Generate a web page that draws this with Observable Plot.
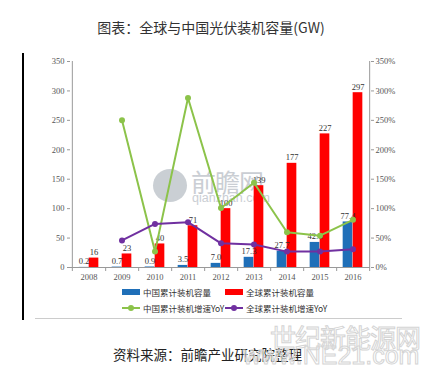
<!DOCTYPE html>
<html><head><meta charset="utf-8">
<script src="https://cdn.jsdelivr.net/npm/d3@7"></script>
<script src="https://cdn.jsdelivr.net/npm/@observablehq/plot@0.6"></script>
<style>
html,body{margin:0;padding:0;background:#fff;}
#wrap{position:relative;width:438px;height:372px;overflow:hidden;font-family:"Noto Sans CJK SC",sans-serif;}
.abs{position:absolute;white-space:nowrap;}
#chart{position:absolute;left:0;top:40px;}
.leg{position:absolute;font-size:8.5px;color:#333;line-height:10px;font-family:"Noto Sans CJK SC",sans-serif;}
</style></head>
<body><div id="wrap">
<div class="abs" style="left:0;width:422px;top:17px;text-align:center;font-size:14px;color:#333;">图表：全球与中国光伏装机容量(GW)</div>
<div class="abs" style="left:22px;top:53px;width:2px;height:267px;background:#000;"></div>
<div class="abs" style="left:153px;top:169px;width:34px;height:33px;border-radius:50%;background:#b4bac2;opacity:0.7;"></div>
<div class="abs" style="left:191px;top:163px;font-size:25px;color:#b4bac2;opacity:0.7;letter-spacing:-1px;">前瞻网</div>
<div class="abs" style="left:192px;top:191px;font-size:12.5px;color:#b4bac2;opacity:0.7;font-family:Arial,sans-serif;">qianzhan.com</div>
<div id="chart"></div>
<div class="abs" style="left:35px;top:318px;width:367px;height:1px;background:#ccc;"></div>
<div id="legend"></div>
<div class="abs" style="left:270px;top:318px;font-size:26px;color:#fff;-webkit-text-stroke:1px #d4d4d4;letter-spacing:-1px;">世纪新能源网</div>
<div class="abs" style="left:113px;top:344px;font-size:13.5px;color:#222;">资料来源：前瞻产业研究院整理</div>
<div class="abs" style="left:243px;top:341px;font-size:25px;color:rgba(255,255,255,0.3);-webkit-text-stroke:1px #d4d4d4;font-family:Arial,sans-serif;">www.NE21.com</div>
</div>
<script>
const years = ["2008","2009","2010","2011","2012","2013","2014","2015","2016"];
const chinaCap = [0.2, 0.7, 0.9, 3.5, 7.0, 17.3, 27.7, 42.6, 77.4];
const globalCap = [16, 23, 40, 71, 100, 139, 177, 227, 297];
const chinaYoY = [null, 250, 27, 288, 101, 144, 60, 54, 81];
const globalYoY = [null, 46, 74, 77, 41, 39, 27, 27, 31];
const yTicks = [0, 50, 100, 150, 200, 250, 300, 350];
const seriesNames = ["中国累计装机容量", "全球累计装机容量", "中国累计装机增速YoY", "全球累计装机增速YoY"];
const colors = ["#1f6fb8", "#ff0000", "#8cc34a", "#7030a0"];

const china = years.map((y, i) => ({year: y, v: chinaCap[i]}));
const global = years.map((y, i) => ({year: y, v: globalCap[i]}));
const cy = years.map((y, i) => ({year: y, v: chinaYoY[i]})).filter(d => d.v != null);
const gy = years.map((y, i) => ({year: y, v: globalYoY[i]})).filter(d => d.v != null);

const W = 438, bw = (W - 70 - 68) / years.length, half = bw / 2;

const chart = Plot.plot({
  width: W, height: 247,
  marginTop: 21, marginBottom: 20, marginLeft: 70, marginRight: 68,
  style: {fontFamily: "'Liberation Serif', serif", fontSize: "8.5px", color: "#555", background: "transparent"},
  x: {type: "band", domain: years, padding: 0},
  y: {domain: [0, 350]},
  marks: [
    Plot.barY(china, {x: "year", y: "v", fill: colors[0], insetLeft: half - 10, insetRight: half}),
    Plot.barY(global, {x: "year", y: "v", fill: colors[1], insetLeft: half, insetRight: half - 10}),
    Plot.ruleY([0], {stroke: "#999"}),
    Plot.ruleX([years[0]], {x: d => d, y1: 0, y2: 350, dx: -half, stroke: "#999"}),
    Plot.ruleX([years[years.length - 1]], {x: d => d, y1: 0, y2: 350, dx: half, stroke: "#999"}),
    Plot.ruleX(years, {x: d => d, y1: 0, y2: 0, dx: half, insetBottom: -4, stroke: "#999"}),
    Plot.ruleX([years[0]], {x: d => d, y1: 0, y2: 0, dx: -half, insetBottom: -4, stroke: "#999"}),
    Plot.text(china, {x: "year", y: "v", text: d => d.v.toFixed(1), dx: -5, dy: -3, lineAnchor: "bottom", fill: "#333"}),
    Plot.text(global, {x: "year", y: "v", text: d => String(d.v), dx: 5, dy: -3, lineAnchor: "bottom", fill: "#333"}),
    Plot.line(cy, {x: "year", y: "v", stroke: colors[2], strokeWidth: 2}),
    Plot.dot(cy, {x: "year", y: "v", fill: colors[2], r: 3}),
    Plot.line(gy, {x: "year", y: "v", stroke: colors[3], strokeWidth: 2}),
    Plot.dot(gy, {x: "year", y: "v", fill: colors[3], r: 3}),
    Plot.axisY({anchor: "left", ticks: yTicks, tickSize: 3, tickPadding: 3, stroke: "#999", fill: "#555", label: null}),
    Plot.axisY({anchor: "right", ticks: yTicks, tickSize: 3, tickPadding: 2, tickFormat: d => d + "%", stroke: "#999", fill: "#555", label: null}),
    Plot.axisX({tickSize: 0, tickPadding: 6, fill: "#555", label: null})
  ]
});
document.getElementById("chart").appendChild(chart);

// legend
const leg = document.getElementById("legend");
const items = [
  {x: 122, y: 292, type: "bar"}, {x: 225, y: 292, type: "bar"},
  {x: 122, y: 308, type: "line"}, {x: 225, y: 308, type: "line"}
];
items.forEach((it, i) => {
  const sw = document.createElement("div");
  sw.className = "abs";
  if (it.type === "bar") {
    sw.style.cssText = `left:${it.x}px;top:${it.y - 3}px;width:18px;height:6px;background:${colors[i]};`;
    leg.appendChild(sw);
  } else {
    sw.style.cssText = `left:${it.x}px;top:${it.y - 1}px;width:18px;height:2px;background:${colors[i]};`;
    leg.appendChild(sw);
    const dot = document.createElement("div");
    dot.className = "abs";
    dot.style.cssText = `left:${it.x + 6}px;top:${it.y - 3}px;width:6px;height:6px;border-radius:50%;background:${colors[i]};`;
    leg.appendChild(dot);
  }
  const t = document.createElement("div");
  t.className = "leg";
  t.style.left = (it.x + 21) + "px";
  t.style.top = (it.y - 5) + "px";
  t.textContent = seriesNames[i];
  leg.appendChild(t);
});
</script>
</body></html>
